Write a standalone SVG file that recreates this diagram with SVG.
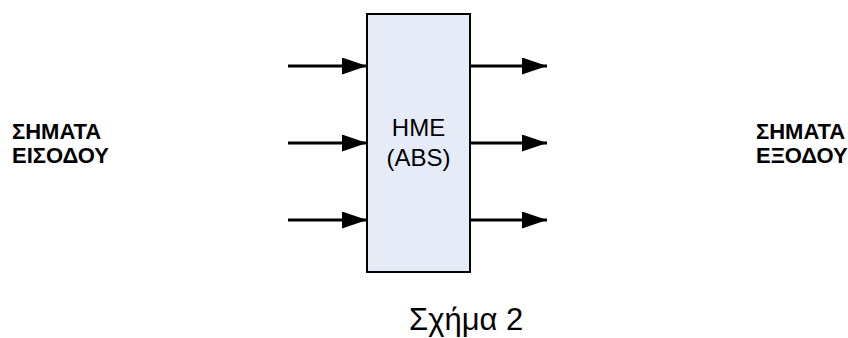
<svg xmlns="http://www.w3.org/2000/svg" width="848" height="338" viewBox="0 0 848 338">
<defs>
<marker id="ah" markerUnits="userSpaceOnUse" markerWidth="26" markerHeight="18" refX="25" refY="8.5" orient="auto">
<polygon points="0,0 25,8.5 0,17" fill="#000"/>
</marker>
<style>
.c{stroke:#000;stroke-width:3;fill:none;marker-end:url(#ah)}
.lbl{font-family:"Liberation Sans",Arial,sans-serif;font-weight:bold;font-size:22px;fill:#000}
.t{font-family:"Liberation Sans",Arial,sans-serif;fill:#000}
</style>
</defs>
<rect width="848" height="338" fill="#fff"/>
<g id="connectors">
<line class="c" x1="288" y1="66" x2="367" y2="66"/>
<line class="c" x1="288" y1="143" x2="367" y2="143"/>
<line class="c" x1="288" y1="220" x2="367" y2="220"/>
<line class="c" x1="469" y1="66" x2="547" y2="66"/>
<line class="c" x1="469" y1="143" x2="547" y2="143"/>
<line class="c" x1="469" y1="220" x2="547" y2="220"/>
</g>
<g id="hme">
<rect x="367" y="14" width="103" height="258" fill="#e6ecf7" stroke="#000" stroke-width="2"/>
<text class="t" x="418.5" y="136" font-size="24" text-anchor="middle">HME</text>
<text class="t" x="418.5" y="166" font-size="24" text-anchor="middle">(ABS)</text>
</g>
<g id="inputs">
<text class="lbl" x="12" y="139">ΣΗΜΑΤΑ</text>
<text class="lbl" x="12" y="163">ΕΙΣΟΔΟΥ</text>
</g>
<g id="outputs">
<text class="lbl" x="756" y="139">ΣΗΜΑΤΑ</text>
<text class="lbl" x="756" y="163">ΕΞΟΔΟΥ</text>
</g>
<g id="caption">
<text class="t" x="409" y="330" font-size="31">Σχήμα 2</text>
</g>
</svg>
